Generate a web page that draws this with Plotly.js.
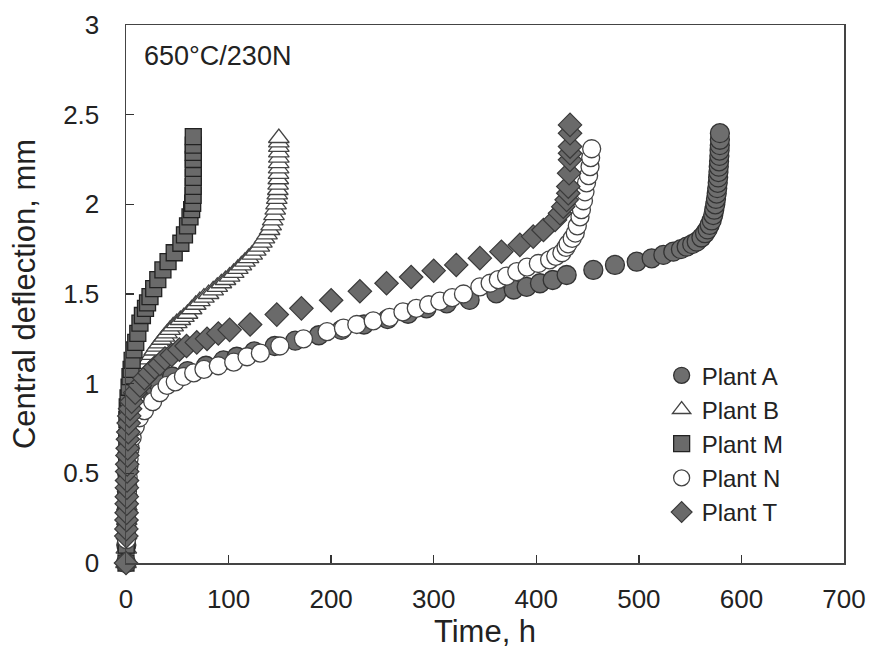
<!DOCTYPE html>
<html>
<head>
<meta charset="utf-8">
<script src="https://cdn.plot.ly/plotly-3.0.1.min.js"></script>
<style>html,body{margin:0;padding:0;background:#fff;}#chart{width:872px;height:649px;}</style>
</head>
<body>
<div id="chart"></div>
<script>
// [time (h), central deflection (mm)]
const plantA = [[0,0],[0.3,0.1],[0.5,0.2],[0.7,0.3],[0.9,0.4],[1.1,0.5],[1.4,0.6],[2,0.7],[4,0.78],[8,0.85],[14,0.91],[22,0.96],[32,1.0],[45,1.04],[60,1.07],[78,1.1],[95,1.13],[108,1.15],[125,1.18],[145,1.21],[165,1.24],[188,1.27],[210,1.3],[232,1.33],[255,1.36],[275,1.39],[293,1.42],[312.7,1.448],[335,1.467],[361,1.504],[378,1.525],[390.6,1.54],[403.6,1.56],[416,1.578],[429.6,1.606],[455.6,1.634],[476.7,1.662],[497.9,1.68],[512.5,1.699],[523.9,1.718],[533.6,1.736],[541,1.75],[546.6,1.764],[552,1.778],[556.4,1.792],[561,1.815],[564.5,1.839],[567,1.86],[569,1.885],[571,1.91],[572.5,1.94],[573.5,1.97],[574.5,2.0],[575.2,2.03],[575.9,2.06],[576.4,2.09],[576.9,2.12],[577.3,2.15],[577.6,2.18],[577.9,2.21],[578.2,2.24],[578.5,2.27],[578.7,2.30],[578.9,2.33],[579,2.36],[579,2.397]];

const plantB = [[0,0],[0.3,0.08],[0.5,0.16],[0.7,0.24],[0.9,0.32],[1.1,0.4],[1.4,0.48],[1.8,0.56],[2.3,0.64],[3,0.71],[4,0.77],[5.5,0.83],[7,0.88],[9,0.93],[11,0.97],[13,1.0],[14.5,1.03],[16,1.06],[18,1.085],[20,1.11],[22.5,1.135],[25,1.16],[27.5,1.185],[30,1.206],[32.5,1.225],[35,1.245],[37.5,1.262],[40,1.28],[43,1.30],[46,1.32],[49.5,1.338],[53,1.355],[56.5,1.372],[60,1.39],[64,1.415],[68,1.44],[72,1.46],[76,1.48],[80.5,1.50],[85,1.52],[89,1.54],[93,1.56],[97,1.578],[101,1.597],[105,1.618],[109,1.64],[112.5,1.66],[116,1.68],[119.5,1.70],[123,1.72],[126.5,1.742],[130,1.764],[132.5,1.787],[135,1.81],[137.5,1.833],[140,1.857],[141.5,1.883],[143,1.91],[144.3,1.94],[145.5,1.97],[146.3,2.0],[147,2.03],[147.5,2.055],[148,2.08],[148.3,2.11],[148.5,2.14],[148.7,2.17],[148.8,2.2],[148.9,2.23],[149,2.26],[149,2.29],[149,2.32],[149,2.345],[149,2.37]];

const plantM = [[0,0],[0.2,0.1],[0.3,0.2],[0.4,0.3],[0.5,0.4],[0.6,0.5],[0.7,0.6],[0.8,0.7],[0.9,0.8],[1.2,0.87],[2,0.92],[3,0.98],[3.9,1.039],[5,1.08],[6,1.13],[7.8,1.188],[9.5,1.23],[11.5,1.28],[13.6,1.338],[16,1.38],[19,1.42],[21,1.45],[23.4,1.485],[27,1.53],[31,1.58],[36,1.634],[41,1.68],[47,1.73],[53.5,1.783],[57,1.83],[60,1.88],[62.4,1.93],[64,1.97],[65,2.006],[65.4,2.05],[65.5,2.10],[65.6,2.15],[65.6,2.20],[65.6,2.25],[65.6,2.29],[65.6,2.33],[65.6,2.378]];

const plantN = [[0,0],[0.5,0.13],[0.7,0.18],[0.9,0.23],[1.1,0.28],[1.3,0.33],[1.5,0.38],[1.8,0.43],[2.1,0.48],[2.5,0.53],[3,0.58],[4,0.64],[6,0.70],[9,0.76],[13,0.81],[18,0.85],[26,0.9],[33,0.95],[40,0.99],[48,1.01],[56,1.04],[66,1.06],[76,1.08],[90,1.1],[105,1.12],[118,1.15],[131,1.17],[150,1.21],[173,1.25],[196,1.29],[212,1.31],[225,1.33],[241,1.35],[257,1.37],[270,1.40],[283,1.42],[295,1.44],[306,1.46],[318,1.48],[329,1.5],[345,1.54],[355,1.56],[363,1.58],[371,1.6],[381,1.625],[391,1.65],[402,1.67],[413,1.69],[419,1.71],[425,1.73],[429,1.76],[431,1.78],[435,1.81],[438,1.84],[440,1.88],[442.6,1.93],[444,1.97],[446,2.02],[447.5,2.07],[449,2.12],[451,2.16],[452.4,2.21],[453,2.26],[454,2.31]];

const plantT = [[0,0],[0.3,0.15],[0.4,0.19],[0.5,0.24],[0.6,0.28],[0.7,0.33],[0.8,0.37],[0.9,0.42],[1,0.46],[1.1,0.51],[1.2,0.55],[1.4,0.6],[1.6,0.64],[1.9,0.69],[2.2,0.73],[2.6,0.78],[3.2,0.82],[4,0.86],[5.5,0.9],[9,0.95],[13.6,0.99],[18,1.03],[23,1.06],[28,1.09],[33,1.11],[38,1.14],[44.5,1.16],[52,1.19],[59,1.21],[69,1.23],[79,1.25],[90,1.28],[101,1.30],[121,1.33],[147,1.385],[171,1.42],[200,1.465],[228,1.515],[254,1.56],[278,1.595],[300,1.63],[322,1.662],[345,1.70],[366,1.736],[384,1.774],[397,1.82],[407,1.857],[418.3,1.913],[423.1,1.95],[426.3,1.987],[429.6,2.025],[431.2,2.062],[431.2,2.099],[432,2.173],[432.9,2.248],[432.9,2.285],[432.9,2.322],[432.9,2.396],[432.9,2.443]];

const seriesNames = ['Plant A','Plant B','Plant M','Plant N','Plant T'];
const xTicks = [0,100,200,300,400,500,600,700];
const yTicks = [0,0.5,1,1.5,2,2.5,3];

const styles = [
  {symbol:'circle', size:19, color:'#6e6e6e', line:{color:'#333', width:1.3}},
  {symbol:'triangle-up', size:18, color:'#ffffff', line:{color:'#444', width:1.3}},
  {symbol:'square', size:16, color:'#6a6a6a', line:{color:'#222', width:1.3}},
  {symbol:'circle', size:18, color:'#ffffff', line:{color:'#444', width:1.3}},
  {symbol:'diamond', size:18, color:'#6a6a6a', line:{color:'#3a3a3a', width:1.2}}
];

const all = [plantA, plantB, plantM, plantN, plantT];
const traces = all.map((s, i) => ({
  type:'scatter', mode:'markers', name: seriesNames[i],
  x: s.map(p => p[0]), y: s.map(p => p[1]),
  cliponaxis:false,
  marker: styles[i]
}));

const font = 'Liberation Sans, Arial, sans-serif';
const layout = {
  width:872, height:649,
  margin:{l:126, r:28, t:25, b:86},
  paper_bgcolor:'#fff', plot_bgcolor:'#fff',
  font:{family:font, color:'#222'},
  showlegend:true,
  legend:{x:0.746, y:0.39, xanchor:'left', yanchor:'top', bgcolor:'rgba(0,0,0,0)',
          font:{size:24, family:font, color:'#222'}, itemwidth:30, tracegroupgap:0},
  xaxis:{range:[0,700], tickvals:xTicks, ticks:'inside', ticklen:8, tickwidth:1.3, tickcolor:'#333',
         showline:true, linecolor:'#444', linewidth:1.5, mirror:true, showgrid:false, zeroline:false,
         tickfont:{size:26, family:font, color:'#222'}, ticklabelstandoff:12,
         title:{text:'Time, h', font:{size:31, family:font, color:'#222'}, standoff:6}},
  yaxis:{range:[0,3], tickvals:yTicks, ticks:'inside', ticklen:8, tickwidth:1.3, tickcolor:'#333',
         showline:true, linecolor:'#444', linewidth:1.5, mirror:true, showgrid:false, zeroline:false,
         tickfont:{size:26, family:font, color:'#222'}, ticklabelstandoff:20,
         title:{text:'Central deflection, mm', font:{size:31, family:font, color:'#222'}, standoff:18}},
  annotations:[{xref:'paper', yref:'paper', x:0.022, y:0.942, xanchor:'left', yanchor:'middle',
     text:'650°C/230N', showarrow:false, font:{size:27, family:font, color:'#222'}}]
};

Plotly.newPlot('chart', traces, layout, {displayModeBar:false, staticPlot:true});
</script>
</body>
</html>
